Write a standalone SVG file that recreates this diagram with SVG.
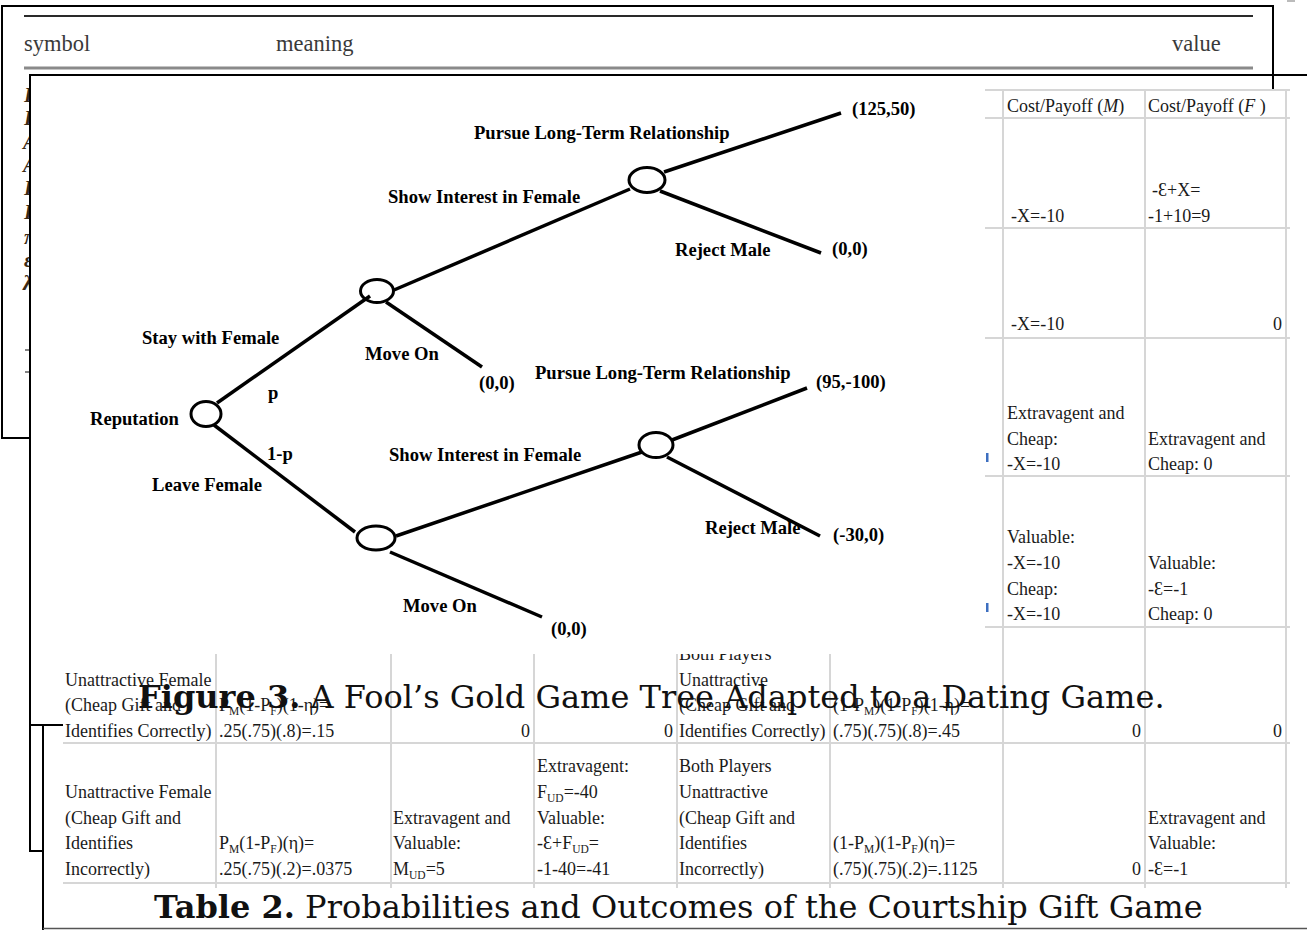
<svg xmlns="http://www.w3.org/2000/svg" width="1307" height="930" viewBox="0 0 1307 930">
<style>
.frame{stroke:#000;stroke-width:2;fill:none}
.sym{font-family:"Liberation Serif",serif;font-size:22.5px;fill:#3a3a3a}
.glyph{font-family:"Liberation Serif",serif;font-style:italic;font-weight:bold;font-size:21px;fill:#3b2a14}
.grid{stroke:#d6d6d6;stroke-width:2}
.tt{font-family:"Liberation Serif",serif;font-size:18px;fill:#1a1a1a}
.r{text-anchor:end}
.sub{font-size:11.5px}
.lbl{font-family:"Liberation Serif",serif;font-weight:bold;font-size:18.6px;fill:#000}
.edge{stroke:#000;stroke-width:3.5;stroke-linecap:butt;fill:none}
.node{stroke:#000;stroke-width:3;fill:none}
.cap{font-family:"DejaVu Serif",serif;font-size:32px;fill:#111}
</style>
<rect width="1307" height="930" fill="#fff"/>

<!-- background table: symbol / meaning / value -->
<g id="symbol-table">
  <line x1="24" y1="16" x2="1253" y2="16" stroke="#2a2a2a" stroke-width="2"/>
  <text class="sym" x="24" y="51">symbol</text>
  <text class="sym" x="276" y="51">meaning</text>
  <text class="sym" x="1172" y="51">value</text>
  <line x1="24" y1="68" x2="1253" y2="68" stroke="#8a8a8a" stroke-width="3"/>
  <text class="glyph" x="24" y="102">P</text>
  <text class="glyph" x="24" y="125">P</text>
  <text class="glyph" x="23" y="149">A</text>
  <text class="glyph" x="23" y="172">A</text>
  <text class="glyph" x="24" y="195">P</text>
  <text class="glyph" x="24" y="219">P</text>
  <text class="glyph" x="24" y="244" fill="#6b5a48">π</text>
  <text class="glyph" x="24" y="267" fill="#7a7068">ε</text>
  <text class="glyph" x="23" y="290" fill="#6b5a48">λ</text>
  <line x1="25" y1="350" x2="31" y2="350" stroke="#333" stroke-width="1.2"/>
  <line x1="25" y1="372" x2="31" y2="372" stroke="#333" stroke-width="1.2"/>
  <path class="frame" d="M30,438 H2 V6 H1273 V90"/>
  <rect x="1287" y="0" width="8" height="2" fill="#bbb"/>
</g>

<!-- Table 2 -->
<g id="table-2">
  <g id="table-grid">
    <line class="grid" x1="985" y1="90" x2="1290" y2="90"/>
    <line class="grid" x1="985" y1="118" x2="1290" y2="118"/>
    <line class="grid" x1="985" y1="228" x2="1290" y2="228"/>
    <line class="grid" x1="985" y1="338" x2="1290" y2="338"/>
    <line class="grid" x1="985" y1="476" x2="1290" y2="476"/>
    <line class="grid" x1="985" y1="627" x2="1290" y2="627"/>
    <line class="grid" x1="63" y1="743" x2="1290" y2="743"/>
    <line class="grid" x1="63" y1="883" x2="1290" y2="883"/>
    <line class="grid" x1="216" y1="652" x2="216" y2="888"/>
    <line class="grid" x1="391" y1="652" x2="391" y2="888"/>
    <line class="grid" x1="534" y1="652" x2="534" y2="888"/>
    <line class="grid" x1="677" y1="652" x2="677" y2="888"/>
    <line class="grid" x1="830" y1="652" x2="830" y2="888"/>
    <line class="grid" x1="1003" y1="90" x2="1003" y2="888"/>
    <line class="grid" x1="1145" y1="90" x2="1145" y2="888"/>
    <line class="grid" x1="1286" y1="90" x2="1286" y2="888"/>
  </g>
  <rect x="986" y="453" width="2.5" height="9" fill="#3d6fc0"/>
  <rect x="986" y="603" width="2.5" height="9" fill="#3d6fc0"/>
  <!-- right columns -->
  <text class="tt" x="1007" y="112">Cost/Payoff (<tspan font-style="italic">M</tspan>)</text>
  <text class="tt" x="1148" y="112">Cost/Payoff (<tspan font-style="italic">F</tspan> )</text>
  <text class="tt" x="1011" y="222">-X=-10</text>
  <text class="tt" x="1152" y="196">-Ɛ+X=</text>
  <text class="tt" x="1148" y="222">-1+10=9</text>
  <text class="tt" x="1011" y="330">-X=-10</text>
  <text class="tt r" x="1282" y="330">0</text>
  <text class="tt" x="1007" y="419">Extravagent and</text>
  <text class="tt" x="1007" y="445">Cheap:</text>
  <text class="tt" x="1007" y="470">-X=-10</text>
  <text class="tt" x="1148" y="445">Extravagent and</text>
  <text class="tt" x="1148" y="470">Cheap: 0</text>
  <text class="tt" x="1007" y="543">Valuable:</text>
  <text class="tt" x="1007" y="569">-X=-10</text>
  <text class="tt" x="1007" y="595">Cheap:</text>
  <text class="tt" x="1007" y="620">-X=-10</text>
  <text class="tt" x="1148" y="569">Valuable:</text>
  <text class="tt" x="1148" y="595">-Ɛ=-1</text>
  <text class="tt" x="1148" y="620">Cheap: 0</text>
  <!-- row: identifies correctly -->
  <text class="tt" x="65" y="686">Unattractive Female</text>
  <text class="tt" x="65" y="711">(Cheap Gift and</text>
  <text class="tt" x="65" y="737">Identifies Correctly)</text>
  <text class="tt" x="219" y="711">P<tspan class="sub" dy="4">M</tspan><tspan dy="-4">(1-P</tspan><tspan class="sub" dy="4">F</tspan><tspan dy="-4">)(1-η)=</tspan></text>
  <text class="tt" x="219" y="737">.25(.75)(.8)=.15</text>
  <text class="tt r" x="530" y="737">0</text>
  <text class="tt r" x="673" y="737">0</text>
  <text class="tt" x="679" y="660">Both Players</text>
  <text class="tt" x="679" y="686">Unattractive</text>
  <text class="tt" x="679" y="711">(Cheap Gift and</text>
  <text class="tt" x="679" y="737">Identifies Correctly)</text>
  <text class="tt" x="833" y="711">(1-P<tspan class="sub" dy="4">M</tspan><tspan dy="-4">)(1-P</tspan><tspan class="sub" dy="4">F</tspan><tspan dy="-4">)(1-η)=</tspan></text>
  <text class="tt" x="833" y="737">(.75)(.75)(.8)=.45</text>
  <text class="tt r" x="1141" y="737">0</text>
  <text class="tt r" x="1282" y="737">0</text>
  <!-- row: identifies incorrectly -->
  <text class="tt" x="65" y="798">Unattractive Female</text>
  <text class="tt" x="65" y="824">(Cheap Gift and</text>
  <text class="tt" x="65" y="849">Identifies</text>
  <text class="tt" x="65" y="875">Incorrectly)</text>
  <text class="tt" x="219" y="849">P<tspan class="sub" dy="4">M</tspan><tspan dy="-4">(1-P</tspan><tspan class="sub" dy="4">F</tspan><tspan dy="-4">)(η)=</tspan></text>
  <text class="tt" x="219" y="875">.25(.75)(.2)=.0375</text>
  <text class="tt" x="393" y="824">Extravagent and</text>
  <text class="tt" x="393" y="849">Valuable:</text>
  <text class="tt" x="393" y="875">M<tspan class="sub" dy="4">UD</tspan><tspan dy="-4">=5</tspan></text>
  <text class="tt" x="537" y="772">Extravagent:</text>
  <text class="tt" x="537" y="798">F<tspan class="sub" dy="4">UD</tspan><tspan dy="-4">=-40</tspan></text>
  <text class="tt" x="537" y="824">Valuable:</text>
  <text class="tt" x="537" y="849">-Ɛ+F<tspan class="sub" dy="4">UD</tspan><tspan dy="-4">=</tspan></text>
  <text class="tt" x="537" y="875">-1-40=-41</text>
  <text class="tt" x="679" y="772">Both Players</text>
  <text class="tt" x="679" y="798">Unattractive</text>
  <text class="tt" x="679" y="824">(Cheap Gift and</text>
  <text class="tt" x="679" y="849">Identifies</text>
  <text class="tt" x="679" y="875">Incorrectly)</text>
  <text class="tt" x="833" y="849">(1-P<tspan class="sub" dy="4">M</tspan><tspan dy="-4">)(1-P</tspan><tspan class="sub" dy="4">F</tspan><tspan dy="-4">)(η)=</tspan></text>
  <text class="tt" x="833" y="875">(.75)(.75)(.2)=.1125</text>
  <text class="tt r" x="1141" y="875">0</text>
  <text class="tt" x="1148" y="824">Extravagent and</text>
  <text class="tt" x="1148" y="849">Valuable:</text>
  <text class="tt" x="1148" y="875">-Ɛ=-1</text>
  <text class="cap" x="154" y="918"><tspan font-weight="bold">Table 2.</tspan> Probabilities and Outcomes of the Courtship Gift Game</text>
  <path d="M43,725 V930" stroke="#000" stroke-width="2" fill="none"/>
  <line x1="43" y1="928.5" x2="1307" y2="928.5" stroke="#555" stroke-width="1.5"/>
</g>

<!-- Figure 3: game tree -->
<g id="figure-3">
  <rect x="31" y="76" width="954" height="578" fill="#fff"/>
  <g id="connectors">
    <line class="edge" x1="217" y1="403" x2="370" y2="296"/>
    <line class="edge" x1="214" y1="425" x2="355" y2="532"/>
    <line class="edge" x1="394" y1="290" x2="630" y2="189"/>
    <line class="edge" x1="386" y1="302" x2="482" y2="367"/>
    <line class="edge" x1="664" y1="172" x2="841" y2="113"/>
    <line class="edge" x1="660" y1="191" x2="821" y2="253"/>
    <line class="edge" x1="396" y1="536" x2="642" y2="452"/>
    <line class="edge" x1="390" y1="552" x2="542" y2="617"/>
    <line class="edge" x1="672" y1="440" x2="807" y2="388"/>
    <line class="edge" x1="667" y1="457" x2="820" y2="536"/>
  </g>
  <g id="node-reputation">
    <ellipse class="node" cx="206" cy="414" rx="15" ry="12.5"/>
    <text class="lbl" x="90" y="425">Reputation</text>
  </g>
  <g id="node-stay">
    <ellipse class="node" cx="377" cy="291" rx="16.5" ry="11.5"/>
  </g>
  <g id="node-show-upper">
    <ellipse class="node" cx="647" cy="180" rx="18" ry="12.5"/>
  </g>
  <g id="node-leave">
    <ellipse class="node" cx="376" cy="538" rx="19" ry="12"/>
  </g>
  <g id="node-show-lower">
    <ellipse class="node" cx="656" cy="445" rx="17" ry="12.5"/>
  </g>
  <g id="edge-labels">
    <text class="lbl" x="852" y="115">(125,50)</text>
    <text class="lbl" x="474" y="139">Pursue Long-Term Relationship</text>
    <text class="lbl" x="388" y="203">Show Interest in Female</text>
    <text class="lbl" x="675" y="256">Reject Male</text>
    <text class="lbl" x="832" y="255">(0,0)</text>
    <text class="lbl" x="142" y="344">Stay with Female</text>
    <text class="lbl" x="365" y="360">Move On</text>
    <text class="lbl" x="479" y="389">(0,0)</text>
    <text class="lbl" x="535" y="379">Pursue Long-Term Relationship</text>
    <text class="lbl" x="816" y="388">(95,-100)</text>
    <text class="lbl" x="268" y="399">p</text>
    <text class="lbl" x="267" y="460">1-p</text>
    <text class="lbl" x="389" y="461">Show Interest in Female</text>
    <text class="lbl" x="152" y="491">Leave Female</text>
    <text class="lbl" x="705" y="534">Reject Male</text>
    <text class="lbl" x="833" y="541">(-30,0)</text>
    <text class="lbl" x="403" y="612">Move On</text>
    <text class="lbl" x="551" y="635">(0,0)</text>
  </g>
  <text class="cap" x="138" y="708"><tspan font-weight="bold">Figure 3.</tspan> A Fool’s Gold Game Tree Adapted to a Dating Game.</text>
  <path class="frame" d="M1307,75 H30 V851 H43"/>
  <line x1="30" y1="725" x2="63" y2="725" stroke="#000" stroke-width="2"/>
</g>
</svg>
